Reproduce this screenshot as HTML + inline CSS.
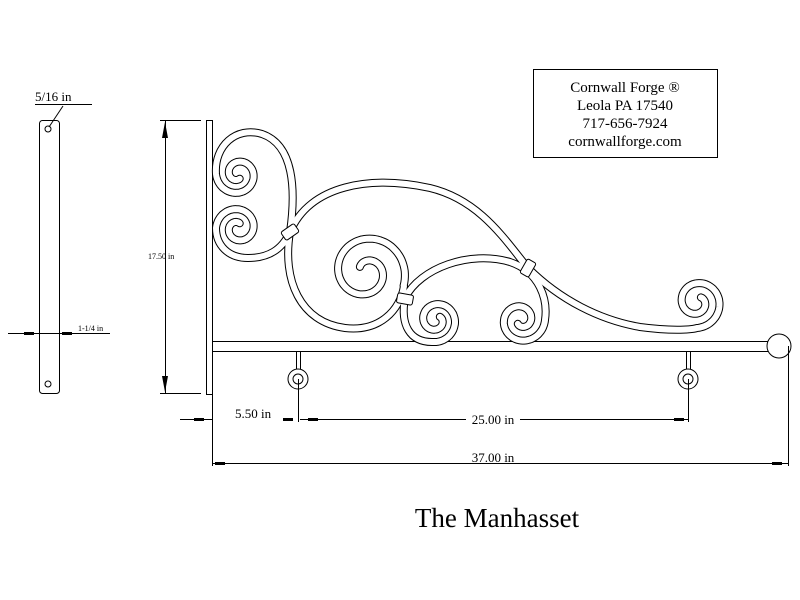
<!DOCTYPE html>
<html><head><meta charset="utf-8"><style>
body{margin:0;background:#fff;width:800px;height:600px;overflow:hidden}
svg{display:block}
text{font-family:"Liberation Serif",serif;fill:#000}
</style></head><body>
<svg id="s" width="800" height="600" viewBox="0 0 800 600" xmlns="http://www.w3.org/2000/svg">
<g fill="none" stroke="#000" stroke-width="1">
<rect x="533.5" y="69.5" width="184" height="88"/>
<rect x="39.5" y="120.5" width="20" height="273" rx="3"/>
<circle cx="48" cy="129" r="3"/>
<circle cx="48" cy="384" r="3"/>
<line x1="35" y1="104.5" x2="92" y2="104.5"/>
<line x1="49" y1="127" x2="63" y2="106"/>
<line x1="8" y1="333.5" x2="110" y2="333.5"/>
<rect x="206.5" y="120.5" width="6" height="274"/>
<rect x="212.5" y="341.5" width="558" height="10"/>
<circle cx="779" cy="346" r="12" fill="#fff"/>
<line x1="296.5" y1="352" x2="296.5" y2="370"/><line x1="300.5" y1="352" x2="300.5" y2="370"/>
<circle cx="298" cy="379" r="10" fill="#fff"/><circle cx="298" cy="379" r="5"/>
<line x1="686.5" y1="352" x2="686.5" y2="370"/><line x1="690.5" y1="352" x2="690.5" y2="370"/>
<circle cx="688" cy="379" r="10" fill="#fff"/><circle cx="688" cy="379" r="5"/>
<line x1="160" y1="120.5" x2="201" y2="120.5"/>
<line x1="160" y1="393.5" x2="201" y2="393.5"/>
<line x1="165.5" y1="120" x2="165.5" y2="393"/>
<line x1="180" y1="419.5" x2="212" y2="419.5"/>
<line x1="300" y1="419.5" x2="466" y2="419.5"/>
<line x1="520" y1="419.5" x2="688" y2="419.5"/>
<line x1="298.5" y1="379" x2="298.5" y2="422"/>
<line x1="688.5" y1="379" x2="688.5" y2="422"/>
<line x1="212.5" y1="395" x2="212.5" y2="466"/>
<line x1="788.5" y1="346" x2="788.5" y2="466"/>
<line x1="212" y1="463.5" x2="788" y2="463.5"/>
</g>
<g fill="#000">
<polygon points="165,122 162,138 168,138"/>
<polygon points="165,392 162,376 168,376"/>
<rect x="24" y="332" width="10" height="3"/><rect x="62" y="332" width="10" height="3"/>
<rect x="194" y="418" width="10" height="3"/>
<rect x="283" y="418" width="10" height="3"/>
<rect x="674" y="418" width="10" height="3"/>
<rect x="308" y="418" width="10" height="3"/>
<rect x="215" y="462" width="10" height="3"/><rect x="772" y="462" width="10" height="3"/>
</g>
<g id="scroll"></g>
<text x="625" y="92" font-size="15" text-anchor="middle">Cornwall Forge ®</text>
<text x="625" y="110" font-size="15" text-anchor="middle">Leola PA 17540</text>
<text x="625" y="128" font-size="15" text-anchor="middle">717-656-7924</text>
<text x="625" y="146" font-size="15" text-anchor="middle">cornwallforge.com</text>
<text x="35" y="101" font-size="13">5/16 in</text>
<text x="78" y="331" font-size="8">1-1/4 in</text>
<text x="148" y="259" font-size="8">17.50 in</text>
<text x="235" y="418" font-size="13">5.50 in</text>
<text x="493" y="424" font-size="13" text-anchor="middle">25.00 in</text>
<text x="493" y="462" font-size="13" text-anchor="middle">37.00 in</text>
<text x="497" y="527" font-size="27" text-anchor="middle">The Manhasset</text>
</svg>
<script>
function sp(cx,cy,r0,r1,a0,sw){var p=[],n=120;for(var i=0;i<=n;i++){var t=i/n,a=(a0+sw*t)*Math.PI/180,r=r0+(r1-r0)*t;p.push((cx+r*Math.cos(a)).toFixed(1)+","+(cy+r*Math.sin(a)).toFixed(1));}return "L"+p.join(" L");}
var P=[
"M290,232 C296,190 294,145 262,134 C236,126 214,146 216,174 "+sp(238,174,22,5,180,-470),
"M290,232 C282,250 268,258 248,258 C228,258 216,245 216,228 "+sp(238,228,22,5,180,470),
"M290,232 C310,185 370,175 430,188 C480,200 505,240 528,268 C560,300 600,320 640,327 C670,331 690,330 697,328 "+sp(697,302,26,6,90,-500),
"M290,232 C282,280 300,322 345,328 C380,332 400,310 404,286 "+sp(366,272,40,8,20,-520),
"M405,298 C420,268 470,250 510,262 C540,272 548,300 545,320 "+sp(521,320,24,5,0,490),
"M405,298 C400,325 410,342 432,342 "+sp(436,320,22,5,90,-490)
];
var g=document.getElementById("scroll"),h="";
P.forEach(function(d){h+='<path d="'+d+'" fill="none" stroke="#000" stroke-width="8" stroke-linecap="round" stroke-linejoin="round"/>';});
P.forEach(function(d){h+='<path d="'+d+'" fill="none" stroke="#fff" stroke-width="6" stroke-linecap="round" stroke-linejoin="round"/>';});
[[290,232,-35],[405,299,10],[528,268,-60]].forEach(function(c){h+='<rect x="'+(c[0]-8)+'" y="'+(c[1]-5)+'" width="16" height="10" rx="2" fill="#fff" stroke="#000" transform="rotate('+c[2]+' '+c[0]+' '+c[1]+')"/>';});
g.innerHTML=h;
</script>
</body></html>
